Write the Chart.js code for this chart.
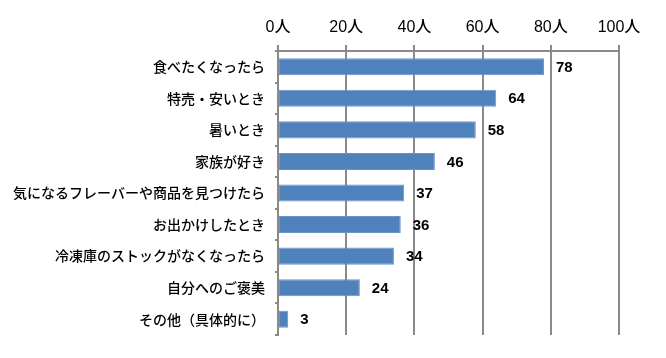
<!DOCTYPE html>
<html><head><meta charset="utf-8">
<script src="https://cdn.jsdelivr.net/npm/chart.js@4"></script>
<style>html,body{margin:0;padding:0;background:#fff}#c{display:block}</style>
</head><body>
<div style="width:666px;height:358px"><canvas id="c" width="666" height="358"></canvas></div>
<script>
const categories = ["食べたくなったら","特売・安いとき","暑いとき","家族が好き","気になるフレーバーや商品を見つけたら","お出かけしたとき","冷凍庫のストックがなくなったら","自分へのご褒美","その他（具体的に）"];
const values = [78,64,58,46,37,36,34,24,3];
const tickValues = [0,20,40,60,80,100];
const tickUnit = "人";

const FONT = "'Liberation Sans','Noto Sans CJK JP',sans-serif";
const JFONT = "'Noto Sans CJK JP',sans-serif";

const labelPlugin = {
  id: 'valLabels',
  afterDatasetsDraw(chart) {
    const ctx = chart.ctx;
    const meta = chart.getDatasetMeta(0);
    ctx.save();
    ctx.fillStyle = '#000';
    ctx.font = "bold 15px " + FONT;
    ctx.textAlign = 'left';
    ctx.textBaseline = 'middle';
    meta.data.forEach((bar, i) => {
      ctx.fillText(String(values[i]), bar.x + 12, bar.y + 1);
    });
    ctx.restore();
  }
};

new Chart(document.getElementById('c'), {
  type: 'bar',
  data: {
    labels: categories,
    datasets: [{
      data: values,
      backgroundColor: '#4F81BD',
      borderColor: '#6a95c8',
      borderWidth: 1,
      borderSkipped: false,
      categoryPercentage: 1,
      barPercentage: 0.54
    }]
  },
  options: {
    indexAxis: 'y',
    responsive: false,
    animation: false,
    devicePixelRatio: 1,
    layout: { padding: { left: 0, right: 47, top: 0, bottom: 23 } },
    plugins: { legend: { display: false }, tooltip: { enabled: false } },
    scales: {
      x: {
        position: 'top',
        min: 0, max: 100,
        afterBuildTicks: s => { s.ticks = tickValues.map(v => ({ value: v })); },
        afterFit: s => { s.height = 51; },
        ticks: {
          color: '#000',
          font: { family: FONT, size: 16, weight: '500' },
          padding: 8,
          callback: v => v + tickUnit
        },
        grid: { color: '#8a8a8a', lineWidth: 2, tickLength: 6, drawTicks: true },
        border: { display: true, color: '#8a8a8a', width: 2 }
      },
      y: {
        afterFit: s => { s.width = 278; },
        ticks: {
          color: '#000',
          font: { family: JFONT, size: 14, weight: '500' },
          padding: 10
        },
        grid: { drawOnChartArea: false, drawTicks: true, tickLength: 3, color: '#8a8a8a', lineWidth: 2, offset: true },
        border: { display: true, color: '#8a8a8a', width: 2 }
      }
    }
  },
  plugins: [labelPlugin]
});
</script>
</body></html>
